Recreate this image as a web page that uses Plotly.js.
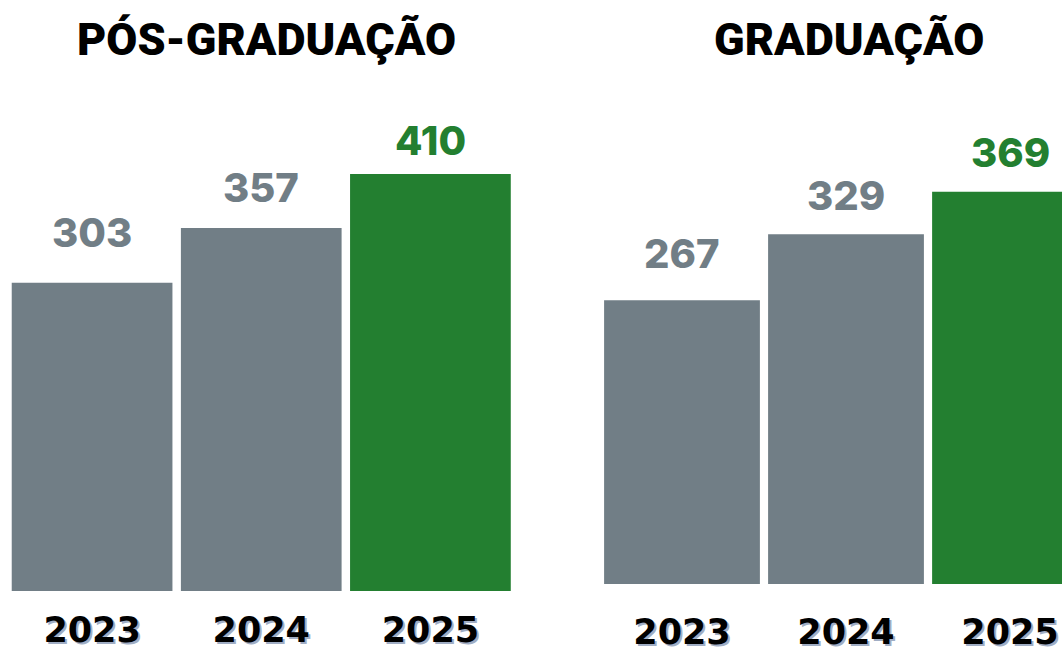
<!DOCTYPE html>
<html>
<head>
<meta charset="utf-8">
<script src="https://cdn.plot.ly/plotly-3.0.1.min.js"></script>
<style>html,body{margin:0;padding:0;background:#fff;}#chart{width:1062px;height:656px;}</style>
</head>
<body>
<div id="chart"></div>
<script>
// ---- data ----
const years = ['2023', '2024', '2025'];
const posGraduacao = [303, 357, 410];
const graduacao = [267, 329, 369];
const titlePos = 'PÓS-GRADUAÇÃO';
const titleGrad = 'GRADUAÇÃO';

// ---- style ----
const GRAY = '#717e86';
const GREEN = '#237f30';
const barColors = [GRAY, GRAY, GREEN];
const labelLiftPos = [50, 40, 34];
const labelLiftGrad = [47, 39, 39];
const W = 1062, H = 656;
const px2y = p => 1 - p / H;
const px2x = p => p / W;

const traces = [
  {type: 'bar', x: years, y: posGraduacao, xaxis: 'x', yaxis: 'y',
   marker: {color: barColors}, hoverinfo: 'skip'},
  {type: 'bar', x: years, y: graduacao, xaxis: 'x2', yaxis: 'y2',
   marker: {color: barColors}, hoverinfo: 'skip'}
];

const numFont = c => ({family: 'Inter, "Liberation Sans", sans-serif', size: 40, weight: 800, color: c});
const annotations = [];
years.forEach((yr, i) => {
  annotations.push({x: i, y: posGraduacao[i], xref: 'x', yref: 'y', text: String(posGraduacao[i]),
    showarrow: false, yanchor: 'middle', yshift: labelLiftPos[i], font: numFont(barColors[i])});
  annotations.push({x: i, y: graduacao[i], xref: 'x2', yref: 'y2', text: String(graduacao[i]),
    showarrow: false, yanchor: 'middle', yshift: labelLiftGrad[i], font: numFont(barColors[i])});
});
const titleFont = {family: 'Roboto, "Liberation Sans", sans-serif', size: 45, weight: 900, color: '#000'};
annotations.push({xref: 'paper', yref: 'paper', x: px2x(266), y: px2y(39), text: titlePos,
  showarrow: false, xanchor: 'center', yanchor: 'middle', font: titleFont});
annotations.push({xref: 'paper', yref: 'paper', x: px2x(849), y: px2y(39), text: titleGrad,
  showarrow: false, xanchor: 'center', yanchor: 'middle', font: titleFont});

const tickFont = {family: '"DejaVu Sans", sans-serif', size: 35, weight: 700, color: '#000',
  shadow: '2px 2px 0px #a0adc4'};

const layout = {
  width: W, height: H,
  margin: {l: 0, r: 0, t: 0, b: 0},
  paper_bgcolor: '#fff', plot_bgcolor: '#fff',
  showlegend: false,
  bargap: 0.05,
  xaxis: {domain: [px2x(7.5), px2x(515)], range: [-0.5, 2.5], type: 'category',
    showgrid: false, zeroline: false, showline: false, ticks: '',
    tickfont: tickFont, ticklabelstandoff: 15, anchor: 'y', fixedrange: true},
  yaxis: {domain: [px2y(591), px2y(591 - 450 * 1.017)], range: [0, 450],
    visible: false, showgrid: false, zeroline: false, fixedrange: true, anchor: 'x'},
  xaxis2: {domain: [px2x(600), 1], range: [-0.5, 2.317], type: 'category',
    showgrid: false, zeroline: false, showline: false, ticks: '',
    tickfont: tickFont, ticklabelstandoff: 24, anchor: 'y2', fixedrange: true},
  yaxis2: {domain: [px2y(584), px2y(584 - 420 * 1.063)], range: [0, 420],
    visible: false, showgrid: false, zeroline: false, fixedrange: true, anchor: 'x2'},
  annotations: annotations
};

Plotly.newPlot('chart', traces, layout, {staticPlot: true, displayModeBar: false});
</script>
</body>
</html>
